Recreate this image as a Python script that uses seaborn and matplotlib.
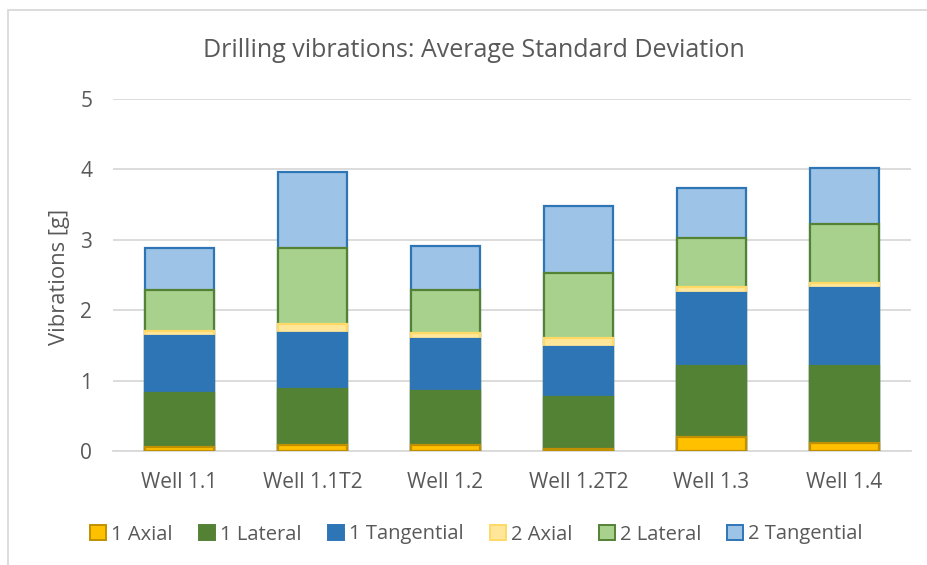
import matplotlib
matplotlib.use("Agg")
import matplotlib.pyplot as plt
from matplotlib.patches import Patch, Rectangle
import numpy as np
import pandas as pd
import seaborn as sns

wells = ["Well 1.1", "Well 1.1T2", "Well 1.2", "Well 1.2T2", "Well 1.3", "Well 1.4"]
series = ["1 Axial", "1 Lateral", "1 Tangential", "2 Axial", "2 Lateral", "2 Tangential"]

axial_1 = [0.05, 0.08, 0.08, 0.03, 0.20, 0.12]
lateral_1 = [0.78, 0.80, 0.77, 0.73, 1.01, 1.09]
tangential_1 = [0.80, 0.80, 0.74, 0.72, 1.03, 1.10]
axial_2 = [0.07, 0.13, 0.08, 0.12, 0.09, 0.08]
lateral_2 = [0.59, 1.07, 0.62, 0.93, 0.70, 0.83]
tangential_2 = [0.59, 1.09, 0.62, 0.95, 0.71, 0.80]

values = [axial_1, lateral_1, tangential_1, axial_2, lateral_2, tangential_2]
fills = ["#FFC000", "#548235", "#2E75B6", "#FFE699", "#A9D18E", "#9DC3E6"]
edges = ["#C09000", "#548235", "#2E75B6", "#FFD966", "#548235", "#2E75B6"]
text_grey = "#595959"

sns.set_theme(style="white")
plt.rcParams["font.family"] = ["Open Sans", "DejaVu Sans"]

fig = plt.figure(figsize=(9.28, 5.65), dpi=100)
ax = fig.add_axes([113 / 928, 1 - 451 / 565, (911 - 113) / 928, (451 - 99) / 565])

# stacked bars: draw cumulative totals from the top series down so each
# lower segment covers the part of the taller bar beneath it
data = pd.DataFrame({"well": wells})
cum = np.cumsum(np.array(values), axis=0)
for i in reversed(range(len(series))):
    data["top"] = cum[i]
    sns.barplot(data=data, x="well", y="top", color=fills[i], saturation=1,
                width=0.52, edgecolor=edges[i], linewidth=1.6, ax=ax, zorder=3)

ax.set_ylim(0, 5)
ax.set_xlim(-0.5, 5.5)
ax.set_yticks([0, 1, 2, 3, 4, 5])
ax.yaxis.grid(True, color="#D9D9D9", linewidth=1.3, zorder=0)
ax.set_axisbelow(True)
for s in ["top", "right", "left"]:
    ax.spines[s].set_visible(False)
ax.spines["bottom"].set_color("#D9D9D9")
ax.spines["bottom"].set_linewidth(1.3)
ax.tick_params(axis="both", length=0, labelsize=15, colors=text_grey)
ax.tick_params(axis="y", pad=15)
ax.tick_params(axis="x", pad=15)
ax.set_xlabel("")
ax.set_ylabel("Vibrations [g]", fontsize=15.8, color=text_grey, va="center")
ax.yaxis.set_label_coords((59 - 113) / 798, 0.495)

fig.text(0.511, 1 - 57 / 565, "Drilling vibrations: Average Standard Deviation",
         ha="center", va="baseline", fontsize=18, color=text_grey)

handles = [Patch(facecolor=f, edgecolor=e, linewidth=1.4) for f, e in zip(fills, edges)]
fig.legend(handles, series, loc="center", bbox_to_anchor=(0.5135, 1 - 534.5 / 565),
           ncol=6, frameon=False, fontsize=14.5, labelcolor=text_grey,
           handlelength=0.8, handleheight=0.75, handletextpad=0.25,
           columnspacing=1.3, borderaxespad=0, borderpad=0)

# chart frame
fig.patches.append(Rectangle((8 / 928, -0.1), 1.2, 1 - 10 / 565 + 0.1,
                             transform=fig.transFigure, fill=False,
                             edgecolor="#D9D9D9", linewidth=1.3))

fig.savefig("out.png", dpi=100, facecolor="white")
